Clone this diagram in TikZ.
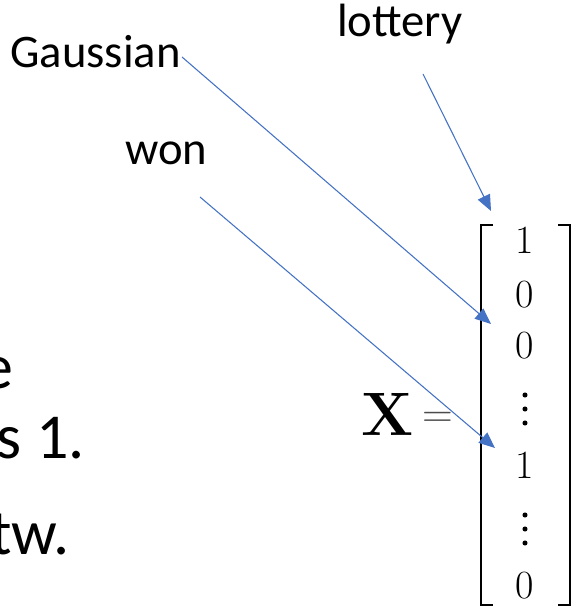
\documentclass[tikz,border=0pt]{standalone}
\usepackage[no-math]{fontspec}
\newfontfamily\slidefont{Carlito}
\usetikzlibrary{arrows.meta}
\definecolor{pointercol}{HTML}{4472C4}
\begin{document}
\begin{tikzpicture}[x=0.75pt,y=-0.75pt,
  word/.style={font=\slidefont\fontsize{35}{42}\selectfont, inner sep=0pt, anchor=base west},
  body/.style={font=\slidefont\fontsize{48}{58}\selectfont, inner sep=0pt, anchor=base east},
  entry/.style={font=\rmfamily\fontsize{30}{36}\selectfont, inner sep=0pt, anchor=base},
  pointer/.style={draw=pointercol, line width=0.8pt, -{Triangle[length=12pt,width=10pt]}},
  bracket/.style={draw=black, line width=2pt, line join=miter}]
\useasboundingbox (0,0) rectangle (587,613);
\clip (0,0) rectangle (587,613);

% fragments of the slide text on the left
\node[body] (frag1) at (14,388) {e};
\node[body] (frag2) at (85,458) {s 1.};
\node[body] (frag3) at (70,554) {tw.};

% word labels
\node[word] (gauss) at (10,68) {Gaussian};
\node[word] (won) at (125,164) {won};
\node[word] (lottery) at (337,37) {lottery};

% the vector X = [1 0 0 ... 1 ... 0]^T
\node[font=\rmfamily\bfseries\fontsize{46}{55}\selectfont, inner sep=0pt, anchor=base] (xvec) at (387.5,435) {X};
\node[font=\rmfamily\fontsize{32}{38}\selectfont, text=black!70, inner sep=0pt, anchor=base] (eq) at (437.5,427) {=};

\node[entry] (r1) at (525,253) {1};
\node[entry] (r2) at (525,307) {0};
\node[entry] (r3) at (525,358) {0};
\node[entry] (r5) at (525,478) {1};
\node[entry] (r7) at (525,598) {0};
\foreach \yy in {395,409,423,515,529,543}
  \fill (525,\yy) circle (1.9pt);

\draw[bracket] (493,225) -- (481,225) -- (481,605) -- (493,605);
\draw[bracket] (558,225) -- (570,225) -- (570,605) -- (558,605);

% pointers from the words to their vector entries
\coordinate (lotS) at (423,74);
\coordinate (lotT) at (491,211);
\coordinate (gaussS) at (182,57);
\coordinate (gaussT) at (491,324);
\coordinate (wonS) at (200,197);
\coordinate (wonT) at (495,448);
\draw[pointer] (lotS) -- (lotT);
\draw[pointer] (gaussS) -- (gaussT);
\draw[pointer] (wonS) -- (wonT);
\end{tikzpicture}
\end{document}
